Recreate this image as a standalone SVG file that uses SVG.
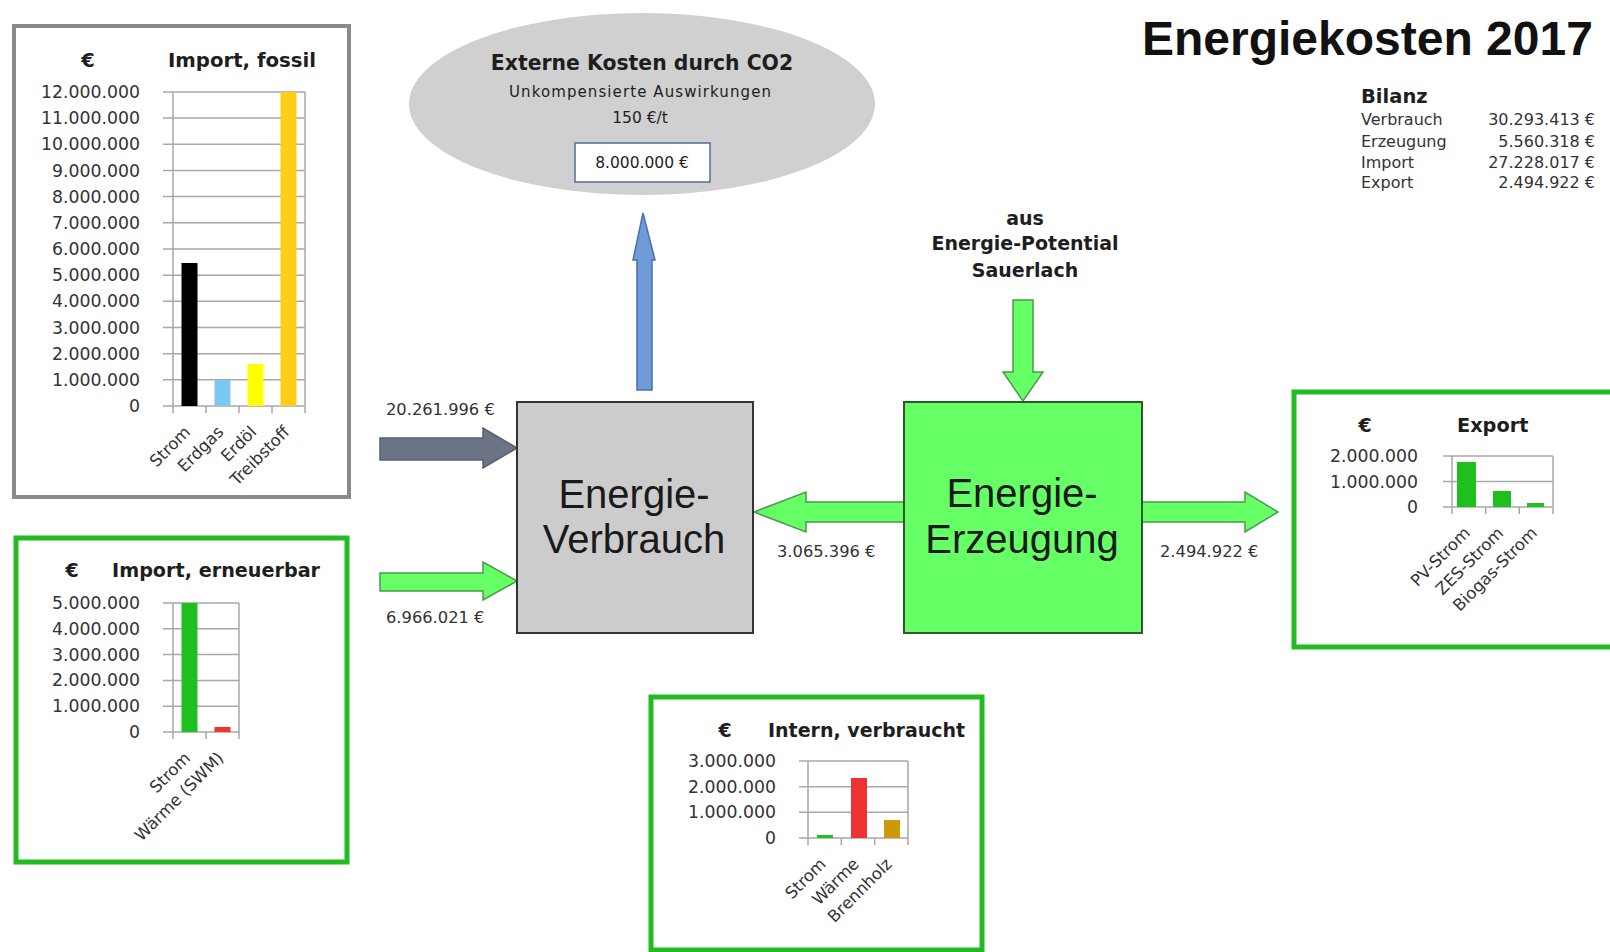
<svg xmlns="http://www.w3.org/2000/svg" width="1610" height="952" viewBox="0 0 1610 952">
<style>
.t{font-family:"DejaVu Sans",sans-serif;fill:#1e1e1e}
.b{font-weight:bold}
.tick{font-family:"DejaVu Sans",sans-serif;font-size:17.3px;fill:#333;text-anchor:end}
.cat{font-family:"DejaVu Sans",sans-serif;font-size:16.5px;fill:#333;text-anchor:end}
.grid{stroke:#a8a8a8;stroke-width:1.5;fill:none}
.big{font-family:"Liberation Sans",Arial,sans-serif;font-size:40px;fill:#1a1a1a;text-anchor:middle}
.val{font-family:"DejaVu Sans",sans-serif;font-size:16.3px;fill:#333}
.bv{font-family:"DejaVu Sans",sans-serif;font-size:16px;fill:#333}
.cg{fill:#fff;stroke:#22bb22;stroke-width:5}
.ga{fill:#66ff66;stroke:#4a9a4a;stroke-width:1.5}
.mid{text-anchor:middle}
</style>
<rect width="1610" height="952" fill="#fff"/>

<g id="title">
<text x="1142" y="55" font-family="Liberation Sans, Arial, sans-serif" font-weight="bold" font-size="48" fill="#111">Energiekosten 2017</text>
</g>

<g id="bilanz">
<text class="t b" x="1361" y="103" font-size="19.5">Bilanz</text>
<g class="bv">
<text x="1361" y="125">Verbrauch</text>
<text x="1361" y="147">Erzeugung</text>
<text x="1361" y="168">Import</text>
<text x="1361" y="188">Export</text>
</g>
<g class="bv" text-anchor="end">
<text x="1595" y="125">30.293.413 €</text>
<text x="1595" y="147">5.560.318 €</text>
<text x="1595" y="168">27.228.017 €</text>
<text x="1595" y="188">2.494.922 €</text>
</g>
</g>

<g id="externe-kosten">
<ellipse cx="642" cy="104" rx="233" ry="91" fill="#d0d0d0"/>
<text class="t b mid" x="642" y="70" font-size="20.4">Externe Kosten durch CO2</text>
<text class="t mid" x="640" y="97" font-size="15" textLength="262" lengthAdjust="spacing">Unkompensierte Auswirkungen</text>
<text class="t mid" x="640" y="123" font-size="15.5">150 €/t</text>
<rect x="575" y="143" width="135" height="39" fill="#fff" stroke="#4f6f95" stroke-width="1.5"/>
<text class="t mid" x="642" y="168" font-size="15.5">8.000.000 €</text>
</g>

<g id="potential">
<text class="t b mid" x="1025" y="225" font-size="19">aus</text>
<text class="t b mid" x="1025" y="250" font-size="19">Energie-Potential</text>
<text class="t b mid" x="1025" y="277" font-size="19">Sauerlach</text>
</g>

<g id="connectors">
<polygon points="637,390 637,260 633,260 643,213 655,260 652,260 652,390" fill="#6f9bd8" stroke="#4a6fa8" stroke-width="1.5"/>
<polygon points="380,438 483,438 483,428 517,448 483,468 483,460 380,460" fill="#6a7485" stroke="#55606f" stroke-width="1.5"/>
<polygon class="ga" points="380,573 483,573 483,562 517,581 483,600 483,591 380,591"/>
<polygon class="ga" points="904,502 806,502 806,492 754,512 806,532 806,522 904,522"/>
<polygon class="ga" points="1142,502 1245,502 1245,492 1278,512 1245,532 1245,522 1142,522"/>
<polygon class="ga" points="1013,300 1033,300 1033,372 1043,372 1023,401 1003,372 1013,372"/>
<text class="val" x="386" y="415">20.261.996 €</text>
<text class="val" x="386" y="623">6.966.021 €</text>
<text class="val" x="777" y="557">3.065.396 €</text>
<text class="val" x="1160" y="557">2.494.922 €</text>
</g>

<g id="verbrauch">
<rect x="517" y="402" width="236" height="231" fill="#cccccc" stroke="#333" stroke-width="2"/>
<text class="big" x="634" y="508">Energie-</text>
<text class="big" x="634" y="553">Verbrauch</text>
</g>

<g id="erzeugung">
<rect x="904" y="402" width="238" height="231" fill="#66ff66" stroke="#2d5a2d" stroke-width="2"/>
<text class="big" x="1022" y="507">Energie-</text>
<text class="big" x="1022" y="553">Erzeugung</text>
</g>

<g id="chart-import-fossil">
<rect x="14" y="26" width="335" height="471" fill="#fff" stroke="#8a8a8a" stroke-width="4"/>
<text class="t b mid" x="88" y="67" font-size="19.5">€</text>
<text class="t b" x="168" y="67" font-size="19.7">Import, fossil</text>
<path class="grid" d="M163 406H305M163 379.8H305M163 353.7H305M163 327.5H305M163 301.3H305M163 275.2H305M163 249H305M163 222.8H305M163 196.6H305M163 170.5H305M163 144.3H305M163 118.1H305M163 92H305M173 92V413M305 92V413M206 406V413M239 406V413M272 406V413"/>
<rect x="181.5" y="263" width="16" height="143" fill="#000"/>
<rect x="214.5" y="380" width="16" height="26" fill="#7cc8f5"/>
<rect x="247.5" y="364" width="16" height="42" fill="#ffff00"/>
<rect x="280.5" y="92" width="16" height="314" fill="#ffcc1a"/>
<g class="tick">
<text x="140" y="412">0</text>
<text x="140" y="385.8">1.000.000</text>
<text x="140" y="359.7">2.000.000</text>
<text x="140" y="333.5">3.000.000</text>
<text x="140" y="307.3">4.000.000</text>
<text x="140" y="281.2">5.000.000</text>
<text x="140" y="255">6.000.000</text>
<text x="140" y="228.8">7.000.000</text>
<text x="140" y="202.6">8.000.000</text>
<text x="140" y="176.5">9.000.000</text>
<text x="140" y="150.3">10.000.000</text>
<text x="140" y="124.1">11.000.000</text>
<text x="140" y="98">12.000.000</text>
</g>
<g class="cat">
<text x="191.5" y="433" transform="rotate(-45 191.5 433)">Strom</text>
<text x="224.5" y="433" transform="rotate(-45 224.5 433)">Erdgas</text>
<text x="257.5" y="433" transform="rotate(-45 257.5 433)">Erdöl</text>
<text x="290.5" y="433" transform="rotate(-45 290.5 433)">Treibstoff</text>
</g>
</g>

<g id="chart-import-erneuerbar">
<rect class="cg" x="16" y="538" width="331" height="324"/>
<text class="t b mid" x="72" y="577" font-size="19">€</text>
<text class="t b" x="112" y="577" font-size="19.2">Import, erneuerbar</text>
<path class="grid" d="M163 732H239M163 706.2H239M163 680.4H239M163 654.6H239M163 628.8H239M163 603H239M173 603V739M239 603V739M206 732V739"/>
<rect x="181.5" y="603" width="16" height="129" fill="#1fbf1f"/>
<rect x="214.5" y="727" width="16" height="5" fill="#ee3333"/>
<g class="tick">
<text x="140" y="738">0</text>
<text x="140" y="712.2">1.000.000</text>
<text x="140" y="686.4">2.000.000</text>
<text x="140" y="660.6">3.000.000</text>
<text x="140" y="634.8">4.000.000</text>
<text x="140" y="609">5.000.000</text>
</g>
<g class="cat">
<text x="191.5" y="759" transform="rotate(-45 191.5 759)">Strom</text>
<text x="224.5" y="759" transform="rotate(-45 224.5 759)">Wärme (SWM)</text>
</g>
</g>

<g id="chart-export">
<rect class="cg" x="1294" y="392" width="330" height="255"/>
<text class="t b mid" x="1365" y="432" font-size="19">€</text>
<text class="t b" x="1457" y="432" font-size="19.3">Export</text>
<path class="grid" d="M1443 507H1553M1443 481.5H1553M1443 456H1553M1452 456V514M1553 456V514M1485.7 507V514M1519.3 507V514"/>
<rect x="1457" y="462" width="19" height="45" fill="#1fbf1f"/>
<rect x="1493" y="491" width="18" height="16" fill="#1fbf1f"/>
<rect x="1527" y="503" width="17" height="4" fill="#1fbf1f"/>
<g class="tick">
<text x="1418" y="513">0</text>
<text x="1418" y="487.5">1.000.000</text>
<text x="1418" y="462">2.000.000</text>
</g>
<g class="cat">
<text x="1471" y="534" transform="rotate(-45 1471 534)">PV-Strom</text>
<text x="1504.5" y="534" transform="rotate(-45 1504.5 534)">ZES-Strom</text>
<text x="1538" y="534" transform="rotate(-45 1538 534)">Biogas-Strom</text>
</g>
</g>

<g id="chart-intern">
<rect class="cg" x="651" y="697" width="331" height="253"/>
<text class="t b mid" x="725" y="737" font-size="19">€</text>
<text class="t b" x="768" y="737" font-size="19">Intern, verbraucht</text>
<path class="grid" d="M799 838H908M799 812.3H908M799 786.7H908M799 761H908M808 761V845M908 761V845M841.3 838V845M874.7 838V845"/>
<rect x="817" y="835" width="16" height="3" fill="#1fbf1f"/>
<rect x="851" y="778" width="16" height="60" fill="#ee3333"/>
<rect x="884" y="820" width="16" height="18" fill="#cc9a06"/>
<g class="tick">
<text x="776" y="844">0</text>
<text x="776" y="818.3">1.000.000</text>
<text x="776" y="792.7">2.000.000</text>
<text x="776" y="767">3.000.000</text>
</g>
<g class="cat">
<text x="827" y="865" transform="rotate(-45 827 865)">Strom</text>
<text x="860" y="865" transform="rotate(-45 860 865)">Wärme</text>
<text x="893" y="865" transform="rotate(-45 893 865)">Brennholz</text>
</g>
</g>
</svg>
